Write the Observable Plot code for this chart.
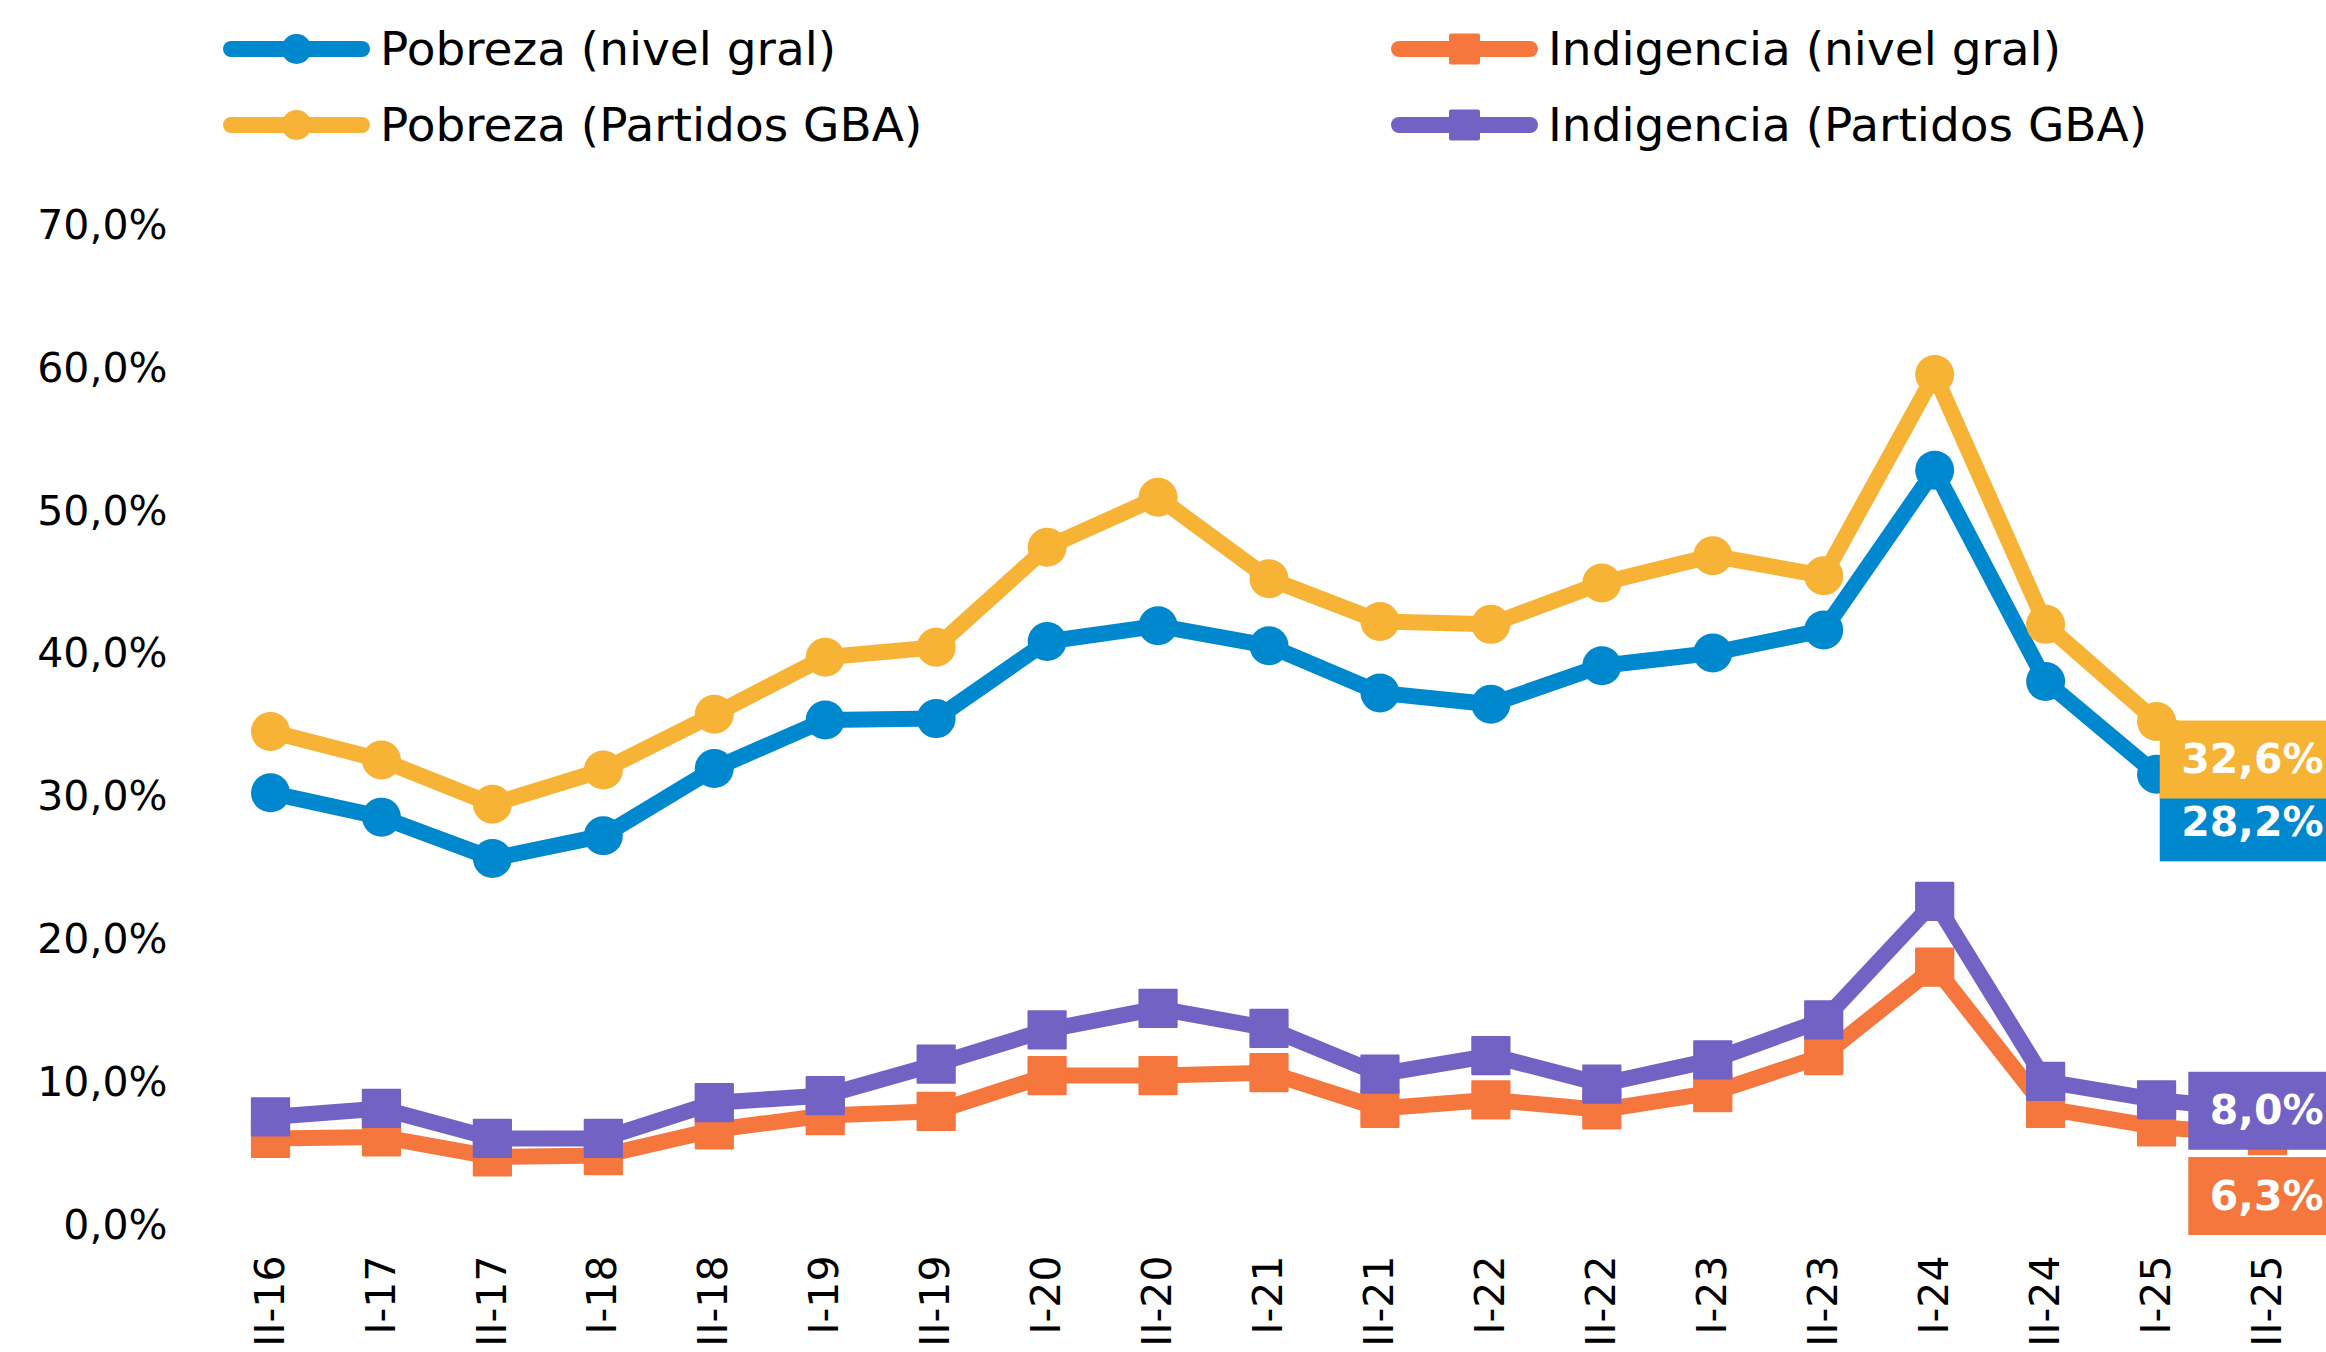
<!DOCTYPE html>
<html>
<head>
<meta charset="utf-8">
<script src="https://cdn.jsdelivr.net/npm/d3@7"></script>
<script src="https://cdn.jsdelivr.net/npm/@observablehq/plot@0.6"></script>
<style>
html, body { margin: 0; padding: 0; background: #fff; overflow: hidden; width: 2326px; height: 1352px; }
#legend { position: relative; width: 2326px; height: 150px; font-family: "DejaVu Sans", sans-serif; }
.item { position: absolute; display: flex; align-items: center; height: 60px; }
.item span { font-size: 47px; line-height: 60px; color: #000; margin-left: 10px; white-space: nowrap; }
#chart svg { display: block; }
</style>
</head>
<body>
<div id="legend"></div>
<div id="chart"></div>
<script>
// ---- data ----
const periods = ["II-16","I-17","II-17","I-18","II-18","I-19","II-19","I-20","II-20","I-21","II-21","I-22","II-22","I-23","II-23","I-24","II-24","I-25","II-25"];
const seriesNames = ["Pobreza (nivel gral)", "Pobreza (Partidos GBA)", "Indigencia (nivel gral)", "Indigencia (Partidos GBA)"];
const pobrezaGral     = [30.3, 28.6, 25.7, 27.3, 32.0, 35.4, 35.5, 40.9, 42.0, 40.6, 37.3, 36.5, 39.2, 40.1, 41.7, 52.9, 38.1, 31.6, 28.2];
const pobrezaGBA      = [34.6, 32.6, 29.5, 31.9, 35.8, 39.8, 40.5, 47.5, 51.0, 45.3, 42.3, 42.1, 45.0, 46.9, 45.5, 59.6, 42.1, 35.3, 32.6];
const indigenciaGral  = [6.1, 6.2, 4.8, 4.9, 6.7, 7.7, 8.0, 10.5, 10.5, 10.7, 8.2, 8.8, 8.1, 9.3, 11.9, 18.1, 8.2, 6.9, 6.3];
const indigenciaGBA   = [7.6, 8.2, 6.1, 6.1, 8.6, 9.1, 11.3, 13.7, 15.2, 13.8, 10.6, 11.9, 9.9, 11.6, 14.4, 22.7, 10.1, 8.8, 8.0];
const yTicks = [0, 10, 20, 30, 40, 50, 60, 70];

// ---- styles ----
const seriesColors  = ["#0088CE", "#F6B335", "#F5773D", "#7262C4"];
const seriesSymbols = ["circle", "circle", "square", "square"];
const seriesValues  = [pobrezaGral, pobrezaGBA, indigenciaGral, indigenciaGBA];
const drawOrder     = [0, 1, 2, 3];
const labelOrder    = [0, 1, 2, 3];           // boxes drawn in this order (later on top)
const labelDy       = [0, 0, 61, 0];          // pixel offsets of end-label boxes
const labelDx       = 56;                     // text end offset from last point (px)
const labelFont     = 41;
const legendPos     = [[223, 19], [223, 95], [1391, 19], [1391, 95]];
const FONT = "DejaVu Sans";

const fmt = v => v.toFixed(1).replace(".", ",") + "%";

// ---- legend ----
const legend = d3.select("#legend");
seriesNames.forEach((name, s) => {
  const item = legend.append("div").attr("class", "item")
    .style("left", legendPos[s][0] + "px").style("top", legendPos[s][1] + "px");
  const sw = item.append("svg").attr("width", 147).attr("height", 40);
  sw.append("line").attr("x1", 8).attr("x2", 139).attr("y1", 20).attr("y2", 20)
    .attr("stroke", seriesColors[s]).attr("stroke-width", 16).attr("stroke-linecap", "round");
  if (seriesSymbols[s] === "circle") {
    sw.append("circle").attr("cx", 73.5).attr("cy", 20).attr("r", 15).attr("fill", seriesColors[s]);
  } else {
    sw.append("rect").attr("x", 73.5 - 15.5).attr("y", 20 - 15.5).attr("width", 31).attr("height", 31)
      .attr("rx", 2).attr("fill", seriesColors[s]);
  }
  item.append("span").text(name);
});

// ---- table ----
const rows = [];
seriesValues.forEach((vals, s) => vals.forEach((v, i) => rows.push({s, i, v, period: periods[i]})));

const ctx = document.createElement("canvas").getContext("2d");
ctx.font = `bold ${labelFont}px "${FONT}"`;

const marks = [];
drawOrder.forEach(s => {
  const data = rows.filter(d => d.s === s);
  marks.push(Plot.line(data, {x: "i", y: "v", stroke: seriesColors[s], strokeWidth: 16, strokeLinejoin: "round", strokeLinecap: "round"}));
  if (seriesSymbols[s] === "circle") {
    marks.push(Plot.dot(data, {x: "i", y: "v", r: 19.5, fill: seriesColors[s], symbol: "circle"}));
  } else {
    marks.push(Plot.dot(data, {x: "i", y: "v", r: 21, fill: seriesColors[s], stroke: seriesColors[s], strokeWidth: 2, strokeLinejoin: "round", symbol: "square"}));
  }
});

labelOrder.forEach(s => {
  const last = rows.filter(d => d.s === s).slice(-1);
  const txt = fmt(last[0].v);
  const w = ctx.measureText(txt).width;
  const left = labelDx - w - 21;   // box left edge relative to point
  marks.push(Plot.rect(last, {x1: "i", x2: "i", y1: "v", y2: "v", fill: seriesColors[s],
    insetLeft: left, insetRight: -(labelDx + 60), insetTop: -39, insetBottom: -39, dy: labelDy[s]}));
  marks.push(Plot.text(last, {x: "i", y: "v", text: d => fmt(d.v), fill: "white", fontSize: labelFont, fontWeight: "bold",
    textAnchor: "end", dx: labelDx, dy: labelDy[s]}));
});

const chart = Plot.plot({
  width: 2326,
  height: 1202,
  marginLeft: 270,
  marginRight: 59,
  marginTop: 75.5,
  marginBottom: 127,
  style: {fontFamily: FONT, fontSize: "41px", color: "#000", background: "white"},
  x: {type: "linear", domain: [0, periods.length - 1], ticks: periods.map((_, i) => i), tickFormat: i => periods[i],
      tickRotate: -90, tickSize: 0, tickPadding: 30, label: null},
  y: {domain: [0, 70], ticks: yTicks, tickFormat: fmt, tickSize: 0, tickPadding: 103, label: null},
  marks
});
document.getElementById("chart").appendChild(chart);
</script>
</body>
</html>
